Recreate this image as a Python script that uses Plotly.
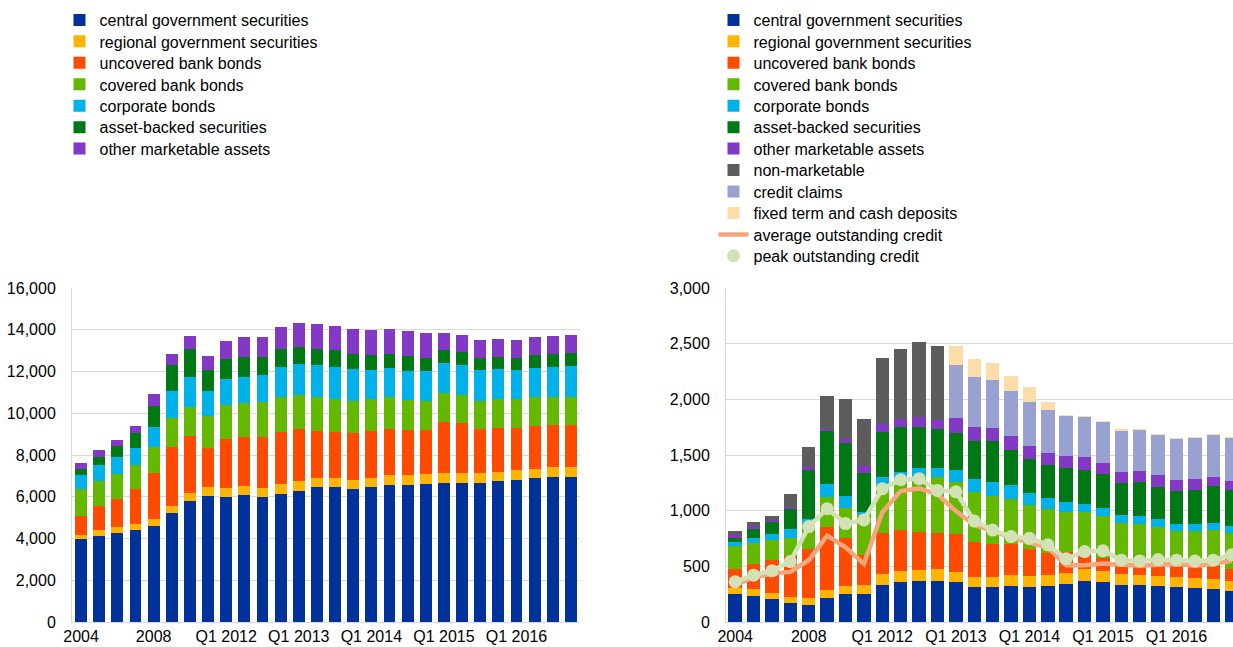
import plotly.graph_objects as go

# ---------------- data ----------------
categories = ["2004", "2005", "2006", "2007", "2008", "2009", "2010", "2011",
              "Q1 2012", "Q2 2012", "Q3 2012", "Q4 2012",
              "Q1 2013", "Q2 2013", "Q3 2013", "Q4 2013",
              "Q1 2014", "Q2 2014", "Q3 2014", "Q4 2014",
              "Q1 2015", "Q2 2015", "Q3 2015", "Q4 2015",
              "Q1 2016", "Q2 2016", "Q3 2016", "Q4 2016"]
tick_labels = ["2004", "2008", "Q1 2012", "Q1 2013", "Q1 2014", "Q1 2015", "Q1 2016"]

# left chart: eligible marketable assets (EUR billions)
central_L = [3970, 4130, 4260, 4400, 4620, 5220, 5790, 6030, 5980, 6080, 5980, 6110, 6290, 6460,
             6460, 6370, 6450, 6560, 6560, 6620, 6660, 6670, 6670, 6740, 6820, 6910, 6960, 6960]
regional_L = [220, 270, 270, 290, 320, 320, 370, 420, 430, 430, 460, 480, 450, 450,
              450, 430, 450, 460, 480, 480, 460, 460, 460, 450, 460, 430, 450, 450]
uncovered_L = [900, 1170, 1360, 1660, 2190, 2830, 2740, 1870, 2350, 2350, 2420, 2500, 2510, 2260,
               2210, 2270, 2260, 2220, 2140, 2110, 2480, 2400, 2110, 2080, 2030, 2060, 2030, 2020]
covered_L = [1260, 1180, 1220, 1170, 1260, 1410, 1390, 1540, 1620, 1630, 1700, 1710, 1620, 1600,
             1570, 1540, 1520, 1520, 1470, 1390, 1360, 1360, 1360, 1390, 1360, 1360, 1360, 1360]
corporate_L = [690, 770, 800, 830, 940, 1280, 1470, 1230, 1260, 1260, 1250, 1410, 1490, 1540,
               1520, 1490, 1390, 1390, 1380, 1410, 1440, 1440, 1460, 1460, 1410, 1420, 1420, 1470]
abs_L = [300, 380, 500, 690, 1020, 1260, 1300, 980, 960, 940, 900, 860, 830, 780,
         800, 740, 700, 670, 690, 660, 640, 620, 610, 590, 590, 590, 640, 620]
other_L = [300, 320, 330, 350, 590, 510, 620, 690, 850, 940, 940, 1060, 1150, 1180,
           1150, 1180, 1230, 1230, 1200, 1180, 820, 820, 820, 850, 850, 860, 850, 860]

# right chart: collateral put forward (EUR billions)
central_R = [248, 230, 203, 173, 155, 218, 254, 251, 331, 355, 364, 370, 355, 310,
             310, 325, 313, 322, 337, 370, 361, 334, 334, 325, 316, 304, 293, 281]
regional_R = [59, 66, 60, 54, 63, 72, 71, 83, 99, 102, 99, 102, 96, 96,
              90, 99, 102, 102, 99, 102, 99, 93, 90, 90, 84, 87, 89, 83]
uncovered_R = [168, 223, 292, 364, 439, 564, 433, 266, 373, 370, 343, 328, 337, 313,
               304, 280, 242, 200, 197, 143, 119, 92, 95, 104, 104, 105, 122, 108]
covered_R = [209, 191, 179, 167, 227, 271, 263, 370, 433, 445, 498, 501, 469, 445,
             430, 403, 397, 388, 352, 370, 370, 366, 359, 338, 314, 319, 320, 331]
corporate_R = [35, 45, 57, 78, 38, 117, 107, 18, 65, 74, 78, 81, 107, 117,
               123, 123, 101, 98, 90, 75, 72, 73, 74, 65, 63, 69, 66, 60]
abs_R = [39, 84, 107, 182, 445, 474, 484, 349, 406, 406, 370, 355, 334, 349,
         373, 319, 311, 299, 304, 307, 304, 293, 305, 293, 295, 304, 328, 322]
other_R = [21, 21, 21, 15, 21, 21, 36, 66, 72, 75, 93, 81, 135, 122,
           113, 120, 113, 110, 111, 114, 99, 95, 98, 104, 99, 93, 86, 81]
nonmarketable_R = [36, 36, 33, 113, 185, 290, 358, 418, 591, 627, 671, 657, 0, 0,
                   0, 0, 0, 0, 0, 0, 0, 0, 0, 0, 0, 0, 0, 0]
credit_claims_R = [0, 0, 0, 0, 0, 0, 0, 0, 0, 0, 0, 0, 477, 451,
                   430, 403, 394, 382, 361, 361, 376, 376, 370, 365, 373, 373, 380, 388]
fixed_term_R = [0, 0, 0, 0, 0, 0, 0, 0, 0, 0, 0, 0, 168, 161,
                152, 134, 134, 75, 6, 3, 3, 3, 3, 3, 3, 3, 3, 3]
avg_credit_R = [334, 400, 436, 450, 555, 775, 670, 522, 985, 1176, 1200, 1146, 997, 872,
                818, 758, 713, 669, 510, 510, 525, 520, 505, 515, 520, 505, 520, 550]
peak_credit_R = [361, 421, 460, 543, 857, 1018, 884, 916, 1197, 1278, 1287, 1182, 1170, 907,
                 826, 767, 752, 693, 567, 633, 639, 555, 549, 561, 555, 549, 555, 605]

# ---------------- styling ----------------
FONT = "Arial, Liberation Sans, sans-serif"
names = ["central government securities", "regional government securities",
         "uncovered bank bonds", "covered bank bonds", "corporate bonds",
         "asset-backed securities", "other marketable assets",
         "non-marketable", "credit claims", "fixed term and cash deposits"]
colors = ["#003299", "#FFB400", "#FF4B00", "#65B800", "#00B1EA",
          "#007816", "#8139C6", "#5C5C5C", "#98A1D0", "#FDDDA7"]

left_series = [central_L, regional_L, uncovered_L, covered_L, corporate_L, abs_L, other_L]
right_series = [central_R, regional_R, uncovered_R, covered_R, corporate_R, abs_R, other_R,
                nonmarketable_R, credit_claims_R, fixed_term_R]

W, H = 1233, 647
LEG_STEP = 21.45
LEG_Y0 = 20
LEG_XL = 59.5
LEG_XR = 713.5


def leg_id(k):
    return "legend" if k == 1 else "legend%d" % k


fig = go.Figure()
legends = {}
k = 1
for i, (name, col, vals) in enumerate(zip(names, colors, left_series)):
    lid = leg_id(k)
    fig.add_trace(go.Bar(x=categories, y=vals, name=name, marker_color=col,
                         marker_line_width=0, width=0.66,
                         xaxis="x", yaxis="y", legend=lid))
    legends[lid] = (LEG_XL, LEG_Y0 + i * LEG_STEP)
    k += 1

j = 0
for name, col, vals in zip(names, colors, right_series):
    lid = leg_id(k)
    fig.add_trace(go.Bar(x=categories, y=vals, name=name, marker_color=col,
                         marker_line_width=0, width=0.73,
                         xaxis="x2", yaxis="y2", legend=lid))
    legends[lid] = (LEG_XR, LEG_Y0 + j * LEG_STEP)
    k += 1
    j += 1

lid = leg_id(k)
fig.add_trace(go.Scatter(x=categories, y=avg_credit_R, name="average outstanding credit",
                         mode="lines", line=dict(color="#F5A67C", width=4.5),
                         xaxis="x2", yaxis="y2", legend=lid))
legends[lid] = (LEG_XR, LEG_Y0 + j * LEG_STEP)
k += 1
j += 1
fig.add_trace(go.Scatter(x=categories, y=peak_credit_R, name="peak outstanding credit",
                         mode="lines", line=dict(color="#D3E2B6", width=4.5),
                         showlegend=False, xaxis="x2", yaxis="y2"))
lid = leg_id(k)
fig.add_trace(go.Scatter(x=categories, y=peak_credit_R, name="peak outstanding credit",
                         mode="markers", marker=dict(color="#D3E2B6", size=13),
                         xaxis="x2", yaxis="y2", legend=lid))
legends[lid] = (LEG_XR, LEG_Y0 + j * LEG_STEP)

ydom = [25 / H, 359 / H]
common_x = dict(type="category", tickmode="array", tickvals=tick_labels, ticktext=tick_labels,
                showgrid=False, showline=True, linecolor="#d9d9d9", linewidth=1,
                ticks="", tickfont=dict(family=FONT, size=16, color="#000"),
                ticklabelstandoff=0, fixedrange=True, automargin=False)
common_y = dict(showgrid=True, gridcolor="#d9d9d9", gridwidth=1, zeroline=False,
                showline=True, linecolor="#d9d9d9", linewidth=1, ticks="",
                tickformat=",", tickfont=dict(family=FONT, size=16, color="#000"),
                ticklabelstandoff=12, domain=ydom, automargin=False, fixedrange=True)

layout_legends = {}
for lid, (lx, ly) in legends.items():
    layout_legends[lid] = dict(x=lx / W, y=1 - ly / H, xanchor="left", yanchor="middle",
                               font=dict(family=FONT, size=16, color="#000"),
                               bgcolor="rgba(0,0,0,0)", borderwidth=0,
                               itemclick=False, itemdoubleclick=False)

fig.update_layout(
    width=W, height=H, margin=dict(l=0, r=0, t=0, b=0, autoexpand=False),
    paper_bgcolor="white", plot_bgcolor="white",
    barmode="stack", font=dict(family=FONT, size=16, color="#000"),
    xaxis=dict(domain=[72 / W, 580 / W], range=[-0.5, 27.5], anchor="y", **common_x),
    yaxis=dict(range=[0, 16000], dtick=2000, anchor="x", **common_y),
    xaxis2=dict(domain=[726 / W, 1.0], range=[-0.5, 27.07], anchor="y2", **common_x),
    yaxis2=dict(range=[0, 3000], dtick=500, anchor="x2", **common_y),
    showlegend=True,
    **layout_legends,
)

fig.write_html("out.html",
               config={"displayModeBar": False, "staticPlot": False},
               post_script="document.body.style.margin='0';document.body.style.overflow='hidden';")
